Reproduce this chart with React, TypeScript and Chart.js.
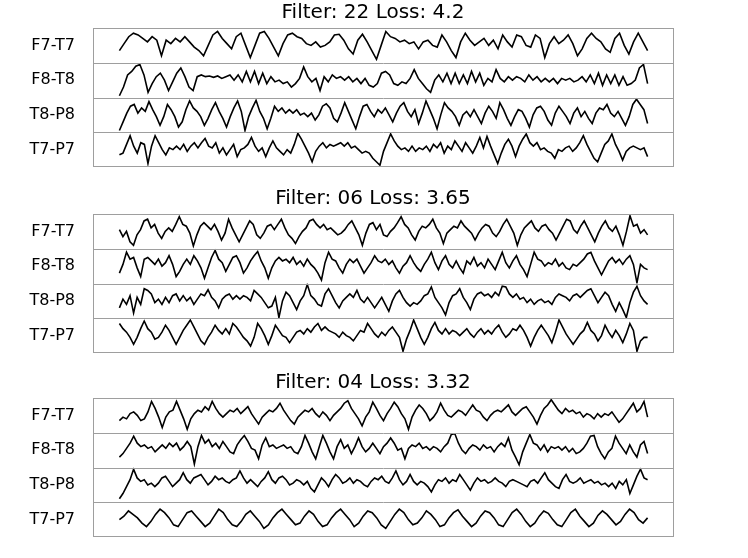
import React, { useEffect, useRef } from "react";
import { Chart, registerables } from "chart.js";

Chart.register(...registerables);

// ---- labels ----
const channels = ["F7-T7", "F8-T8", "T8-P8", "T7-P7"];
const filters = ["22", "06", "04"];
const losses = ["4.2", "3.65", "3.32"];
const DURATION = 10; // seconds shown per trace

// ---- panel 1 (Filter 22) ----
const p1F7T7 = [35,55,75,85,80,70,60,75,65,20,65,55,70,60,75,60,45,35,20,50,80,90,70,55,40,75,85,50,15,50,85,90,70,45,20,55,80,85,75,70,55,50,60,45,50,60,80,82,65,40,25,65,82,60,35,10,50,90,75,70,60,65,55,60,40,60,65,50,45,80,60,35,15,60,85,65,50,60,70,50,65,40,80,60,45,80,75,50,45,80,70,15,55,75,55,65,80,55,20,40,70,85,70,60,40,30,70,85,50,25,60,85,60,35];
const p1F8T8 = [5,30,65,75,90,95,65,15,40,60,70,50,20,45,70,85,60,30,20,60,65,60,62,58,62,55,60,65,50,65,45,75,45,75,40,70,40,60,45,50,40,45,30,40,55,88,60,45,55,20,60,45,65,55,60,50,60,45,55,40,55,35,30,40,70,75,65,40,35,45,40,55,80,55,40,25,15,50,65,45,70,40,70,40,65,40,75,45,70,35,55,45,80,55,45,60,50,60,55,45,65,50,60,45,55,45,55,40,55,50,55,45,50,60,45,65,40,70,35,65,40,65,35,60,35,40,50,85,95,40];
const p1T8P8 = [5,30,55,75,80,55,70,60,88,65,45,20,45,80,65,45,15,30,65,90,70,60,45,20,40,65,85,60,40,15,45,70,90,60,5,45,70,92,60,40,10,40,75,60,70,55,65,55,65,50,55,45,55,35,50,75,82,70,40,30,55,85,60,35,10,45,75,80,60,45,65,55,70,50,30,55,75,85,60,45,65,25,55,90,65,40,10,50,85,70,60,45,20,50,60,45,65,45,25,55,75,60,40,85,65,40,20,45,65,60,40,15,50,70,75,60,35,20,55,75,60,45,25,55,70,45,60,40,25,55,70,65,80,55,45,60,40,20,45,80,95,80,65,25];
const p1T7P7 = [35,40,65,90,60,40,70,65,10,60,90,70,50,35,55,50,60,50,65,45,60,70,55,70,82,60,55,70,40,55,35,50,65,30,50,55,65,85,60,45,55,30,55,75,55,45,35,50,40,65,97,80,60,40,15,45,60,70,55,65,60,65,70,60,70,55,60,50,40,45,40,25,15,5,45,70,95,75,60,50,55,45,60,45,55,50,60,45,65,55,70,40,60,50,75,60,45,70,55,40,60,85,55,88,60,35,10,40,65,80,60,30,60,80,95,70,60,70,50,55,45,40,25,50,45,55,60,45,55,70,90,65,45,25,15,40,65,75,95,65,45,20,45,55,60,55,50,55,30];

// ---- panel 2 (Filter 06) ----
const p2F7T7 = [55,35,50,20,10,40,55,80,85,60,70,45,30,50,60,50,70,92,70,65,45,8,40,65,75,65,55,70,50,25,45,85,60,40,20,40,60,80,70,40,30,45,65,70,55,70,85,60,40,30,15,35,50,60,80,85,70,60,70,55,60,50,40,45,55,70,80,60,40,10,45,70,75,55,70,40,35,50,60,75,92,70,60,40,25,50,65,60,70,85,60,45,15,45,55,65,60,80,65,55,45,25,45,60,70,65,45,35,50,70,85,65,45,10,40,60,70,80,60,50,65,70,55,45,25,45,65,85,80,55,45,65,80,60,40,20,45,65,80,60,50,65,40,10,50,95,65,70,45,55,40];
const p2F8T8 = [30,55,90,70,75,45,20,70,75,65,55,70,50,60,80,55,20,35,55,70,55,80,65,45,15,45,75,95,70,60,35,55,75,80,60,30,45,65,80,92,65,45,15,45,65,75,65,70,60,75,55,65,50,70,55,45,30,10,60,90,70,65,45,30,55,70,60,70,50,30,45,60,80,65,60,70,55,65,45,30,50,60,80,60,45,35,55,70,90,60,40,65,80,55,45,65,45,30,65,55,75,50,60,45,70,55,40,65,90,60,45,65,80,55,40,20,55,90,70,65,50,60,55,70,50,60,45,40,55,50,60,70,85,90,65,45,25,45,65,75,60,70,55,70,80,55,2,55,45,40];
const p2T8P8 = [30,55,40,65,15,60,40,85,80,70,45,55,40,60,45,65,70,50,65,50,60,40,55,70,65,82,60,50,30,55,65,70,55,65,55,65,60,50,80,70,60,45,30,35,60,2,50,75,65,45,25,50,65,97,65,55,40,35,70,85,65,45,30,50,60,70,60,80,55,45,60,45,30,45,60,40,20,50,70,80,60,45,35,45,40,50,65,70,90,60,45,30,10,45,65,70,85,60,45,25,55,70,75,65,70,60,75,65,92,90,70,60,70,55,60,45,55,40,50,55,45,50,40,60,70,65,60,50,65,70,60,70,80,85,65,45,60,75,65,40,20,45,25,2,45,75,92,65,50,40];
const p2T7P7 = [85,70,60,45,25,45,70,92,70,60,40,45,60,80,65,45,25,45,65,80,95,75,55,35,25,45,60,80,65,55,70,55,85,75,60,45,35,20,45,85,70,50,25,50,80,65,50,45,30,45,60,65,55,70,60,75,85,65,75,65,60,55,45,60,50,45,35,50,65,60,85,70,55,45,60,50,65,75,60,45,5,40,65,95,70,45,25,45,70,88,65,55,70,55,65,60,50,60,70,55,45,60,70,55,65,55,70,80,60,45,55,70,65,80,65,45,20,45,65,80,65,50,30,60,95,75,55,40,25,40,55,65,88,65,55,35,50,80,60,45,65,50,30,55,85,65,5,35,45,45];

// ---- panel 3 (Filter 04) ----
const p3F7T7 = [35,45,40,55,60,50,35,40,60,90,70,45,15,45,60,65,90,65,40,10,40,55,65,60,75,65,90,70,55,45,55,65,60,70,55,65,75,55,40,25,45,55,65,60,70,85,65,50,35,25,45,55,65,60,70,55,45,60,50,35,50,60,70,85,92,70,55,40,20,45,60,88,70,50,35,55,70,88,75,55,40,10,45,65,80,70,55,35,45,60,85,65,50,45,55,65,60,50,65,80,65,60,45,35,50,60,65,60,70,80,60,50,60,70,75,60,45,25,50,70,80,95,80,65,55,70,60,65,55,60,45,55,50,40,55,45,55,50,60,45,30,40,55,70,85,60,70,90,45];
const p3F8T8 = [30,40,55,70,90,70,60,65,55,60,45,55,65,55,70,60,70,50,60,75,60,10,60,92,70,80,60,70,55,75,60,45,40,65,80,92,75,55,50,25,65,85,60,65,55,60,65,55,60,45,40,60,92,70,45,25,60,92,70,45,25,60,80,55,65,40,60,85,60,45,55,70,55,40,60,70,85,70,50,55,25,55,65,60,70,55,60,50,60,55,45,60,70,95,97,70,50,40,55,65,60,50,65,55,60,45,60,70,60,85,50,30,8,45,70,95,70,65,50,65,45,60,55,60,50,60,45,55,40,45,55,70,90,92,60,40,25,45,55,90,70,55,40,65,45,30,65,75,40];
const p3T8P8 = [10,25,45,65,95,70,60,65,50,55,45,55,70,75,60,45,55,65,85,65,55,70,75,80,65,50,60,75,65,70,60,55,65,70,90,70,55,65,55,45,60,70,88,65,55,70,75,65,50,55,65,60,50,60,40,30,50,70,60,45,65,80,70,55,60,70,55,65,60,50,45,60,70,65,75,60,55,70,90,65,50,60,80,60,50,60,55,45,30,50,65,60,70,55,65,60,80,65,50,35,55,70,60,65,55,60,70,60,55,45,60,65,60,55,50,45,60,65,55,70,85,65,55,45,40,65,80,60,55,60,70,55,60,65,55,60,50,55,45,55,40,60,50,65,25,50,75,95,70,65];
const p3T7P7 = [50,60,75,65,55,40,30,45,65,80,70,55,35,30,50,70,75,60,45,30,40,60,80,70,50,35,30,45,65,75,60,45,25,35,55,70,80,65,50,35,40,60,75,65,45,30,35,55,70,80,65,50,30,40,60,75,70,55,35,25,45,65,80,70,50,35,40,55,75,65,50,30,35,55,70,78,60,45,30,40,60,75,70,55,35,30,50,70,80,65,45,30,40,60,75,68,50,35,30,50,70,80,60,45,30,40,62,75,65,50,35,45,65,80,70,50,40,55];

const panels = [
  [p1F7T7, p1F8T8, p1T8P8, p1T7P7],
  [p2F7T7, p2F8T8, p2T8P8, p2T7P7],
  [p3F7T7, p3F8T8, p3T8P8, p3T7P7],
];

const FONT = "'DejaVu Sans', 'Liberation Sans', sans-serif";

function toPoints(values: number[]) {
  return values.map((v, i) => ({ x: (i * DURATION) / (values.length - 1), y: v }));
}

const framePlugin = {
  id: "frame",
  afterDraw(chart: any) {
    const { ctx, chartArea } = chart;
    const { left, right, top, bottom } = chartArea;
    ctx.save();
    ctx.strokeStyle = "#9e9e9e";
    ctx.lineWidth = 1;
    ctx.beginPath();
    for (let i = 1; i < 4; i++) {
      const yy = Math.round(chart.scales["y" + i].top) + 0.5;
      ctx.moveTo(left, yy);
      ctx.lineTo(right, yy);
    }
    ctx.stroke();
    ctx.strokeRect(Math.round(left) + 0.5, Math.round(top) + 0.5, Math.round(right - left) - 1, Math.round(bottom - top) - 1);
    // title
    const t = chart.options.plugins.panelTitle.text;
    ctx.fillStyle = "#000";
    ctx.font = "20px " + FONT;
    ctx.textAlign = "center";
    ctx.textBaseline = "middle";
    ctx.fillText(t, 373, 13);
    ctx.restore();
  },
};

function Panel({ index }: { index: number }) {
  const ref = useRef<HTMLCanvasElement>(null);
  useEffect(() => {
    if (!ref.current) return;
    const series = panels[index];
    const scales: any = {
      x: { type: "linear", min: -DURATION * 0.05, max: DURATION * 1.05, display: false },
    };
    // stacked axes are placed bottom-up in definition order, so define the last channel first
    for (let i = channels.length - 1; i >= 0; i--) {
      const name = channels[i];
      scales["y" + i] = {
        type: "linear",
        position: "left",
        stack: "eeg",
        stackWeight: 1,
        min: 0,
        max: 100,
        grid: { display: false, drawTicks: true, tickLength: 18 },
        border: { display: false },
        afterBuildTicks: (axis: any) => {
          axis.ticks = [{ value: 50 }];
        },
        afterFit: (axis: any) => {
          axis.width = 93;
        },
        ticks: {
          callback: () => name,
          font: { family: FONT, size: 16 },
          color: "#000",
          padding: 0,
        },
      };
    }
    const chart = new Chart(ref.current, {
      type: "line",
      data: {
        datasets: series.map((s, i) => ({
          label: channels[i],
          data: toPoints(s),
          yAxisID: "y" + i,
          xAxisID: "x",
          borderColor: "#000",
          borderWidth: 1.6,
          pointRadius: 0,
          tension: 0,
          fill: false,
        })),
      },
      options: {
        animation: false,
        responsive: false,
        devicePixelRatio: 1,
        events: [],
        layout: { padding: { top: 28, right: 74, bottom: 19, left: 0 } },
        plugins: {
          legend: { display: false },
          tooltip: { enabled: false },
          title: { display: false },
          panelTitle: { text: `Filter: ${filters[index]} Loss: ${losses[index]}` },
        } as any,
        scales,
      },
      plugins: [framePlugin],
    });
    return () => chart.destroy();
  }, [index]);
  const tops = [0, 186, 370];
  return (
    <canvas
      ref={ref}
      width={748}
      height={186}
      style={{ position: "absolute", left: 0, top: tops[index], width: 748, height: 186 }}
    />
  );
}

export default function App() {
  return (
    <div style={{ position: "absolute", left: 0, top: 0, width: 748, height: 558, background: "#fff" }}>
      <Panel index={0} />
      <Panel index={1} />
      <Panel index={2} />
    </div>
  );
}
